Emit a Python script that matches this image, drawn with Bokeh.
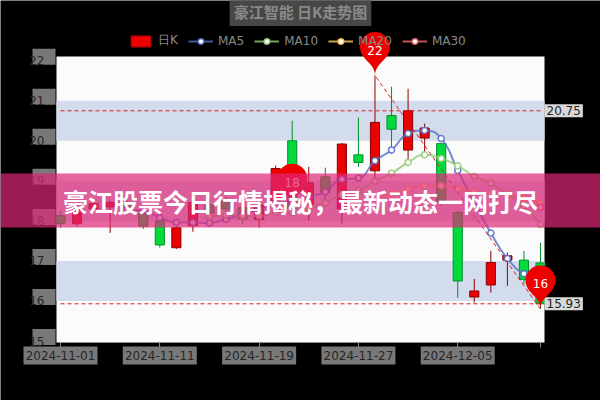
import math
import re
from bokeh.plotting import figure
from bokeh.models import (ColumnDataSource, FixedTicker, BoxAnnotation, Label,
                          PolyAnnotation, Legend, LegendItem, Range1d)
from bokeh.embed import file_html
from bokeh.resources import INLINE

NaN = float("nan")

# ---------------- data ----------------
dates = ["2024-11-01", "2024-11-04", "2024-11-05", "2024-11-06", "2024-11-07",
         "2024-11-08", "2024-11-11", "2024-11-12", "2024-11-13", "2024-11-14",
         "2024-11-15", "2024-11-18", "2024-11-19", "2024-11-20", "2024-11-21",
         "2024-11-22", "2024-11-25", "2024-11-26", "2024-11-27", "2024-11-28",
         "2024-11-29", "2024-12-02", "2024-12-03", "2024-12-04", "2024-12-05",
         "2024-12-06", "2024-12-09", "2024-12-10", "2024-12-11", "2024-12-12"]
opens = [18.13, 17.93, 18.30, 18.35, 18.46, 18.20, 18.00, 17.33, 17.88, 18.40,
         18.50, 18.33, 18.04, 18.50, 20.00, 18.40, 19.10, 18.30, 19.65, 19.25,
         20.63, 19.77, 20.07, 19.93, 18.21, 16.10, 16.40, 17.02, 17.02, 16.95]
highs = [18.25, 18.40, 18.55, 18.50, 18.55, 18.30, 18.05, 17.90, 18.50, 18.55,
         18.60, 18.40, 18.45, 19.38, 20.50, 19.35, 19.33, 19.95, 20.58, 21.63,
         21.35, 21.30, 20.43, 19.95, 18.25, 16.55, 17.25, 17.21, 17.25, 17.45]
lows = [17.83, 17.85, 18.20, 17.70, 18.15, 17.80, 17.33, 17.30, 17.73, 18.10,
        18.25, 17.92, 17.83, 18.40, 18.20, 18.00, 18.50, 17.92, 19.35, 19.00,
        19.68, 19.43, 19.71, 18.38, 16.08, 15.96, 16.21, 16.38, 16.43, 15.80]
closes = [17.93, 18.30, 18.43, 18.46, 18.24, 17.87, 17.40, 17.83, 18.46, 18.20,
          18.30, 18.05, 18.39, 19.31, 18.31, 18.95, 18.71, 19.92, 19.46, 20.46,
          20.29, 20.75, 20.32, 18.46, 16.50, 16.25, 16.96, 17.13, 16.54, 15.93]

ma5 = [NaN] * 4 + [18.27, 18.26, 18.08, 17.96, 17.96, 17.95, 18.04, 18.17, 18.28,
                   18.45, 18.47, 18.60, 18.73, 19.04, 19.07, 19.50, 19.77, 20.18,
                   20.26, 20.06, 19.26, 18.46, 17.70, 17.06, 16.68, 16.56]
ma10 = [NaN] * 9 + [18.11, 18.15, 18.12, 18.12, 18.21, 18.21, 18.32, 18.45, 18.66,
                    18.76, 18.99, 19.19, 19.46, 19.65, 19.56, 19.38, 19.11, 18.94,
                    18.66, 18.37, 17.91]
ma20 = [NaN] * 19 + [18.55, 18.67, 18.79, 18.88, 18.88, 18.80, 18.72, 18.69, 18.66,
                     18.56, 18.45]
ma30 = [NaN] * 29 + [18.34]

ma_names = ["MA5", "MA10", "MA20", "MA30"]
y_ticks = [15, 16, 17, 18, 19, 20, 21, 22]
x_tick_idx = [0, 6, 12, 18, 24, 29]
band_ranges = [(16, 17), (18, 19), (20, 21)]

close_max = 20.75
close_min = 15.93
high_max_idx, high_max = 19, 21.63
low_min_idx, low_min = 29, 15.80
avg_idx, avg_close = 14, 18.34

title_text = "豪江智能 日K走势图"
banner_text = "豪江股票今日行情揭秘，最新动态一网打尽"

# ---------------- styles / geometry ----------------
UP, UP_BORDER = "#ec0000", "#8a0000"
DOWN, DOWN_BORDER = "#00da3c", "#008f28"
MA_COLORS = ["#5470c6", "#91cc75", "#fac858", "#ee6666"]
MARK = "#d81e1e"
PIN = "#ee0000"
BAND = "#d3dcec"
LABEL_BOX = "#787878"

W, H = 600, 400
n = len(dates)
X0_PX = 60.0                         # page x of the first category
PXX = 480.0 / (n - 1)                # px per category
PXY = 40.04                          # px per price unit
Y22_PX = 60.25                       # page y of the top tick
x_start, x_end = -X0_PX / PXX, (W - X0_PX) / PXX
y_end = max(y_ticks) + Y22_PX / PXY
y_start = y_end - H / PXY


def x_of(sx):
    return x_start + sx / PXX


def y_of(sy):
    return y_end - sy / PXY


GRID_L, GRID_R, GRID_T, GRID_B = 56, 544, 56, 341.5

p = figure(width=W, height=H, x_range=Range1d(x_start, x_end),
           y_range=Range1d(y_start, y_end), output_backend="svg",
           toolbar_location=None, min_border=0, min_border_left=0,
           min_border_right=0, min_border_top=0, min_border_bottom=0,
           background_fill_color="#000000", border_fill_color="#000000",
           outline_line_color=None)
p.grid.visible = False

# plot area and split-area bands
p.add_layout(BoxAnnotation(left=x_of(GRID_L), right=x_of(GRID_R), top=y_of(GRID_T),
                           bottom=y_of(GRID_B), fill_color="#fbfbfb", fill_alpha=1.0,
                           line_alpha=0, level="underlay"))
for lo, hi in band_ranges:
    p.add_layout(BoxAnnotation(left=x_of(GRID_L), right=x_of(GRID_R), bottom=lo, top=hi,
                               fill_color=BAND, fill_alpha=1.0, line_alpha=0,
                               level="underlay"))

# grey blocks behind the tick labels (as in the reference)
for t in y_ticks:
    p.add_layout(BoxAnnotation(left=x_of(32), right=x_of(55),
                               bottom=t + (4 - 8) / PXY, top=t + (4 + 8) / PXY,
                               fill_color=LABEL_BOX, fill_alpha=1.0, line_alpha=0,
                               level="underlay"))
for i in x_tick_idx[:-1]:
    p.add_layout(BoxAnnotation(left=i - 37 / PXX, right=i + 37 / PXX,
                               top=y_of(346), bottom=y_of(364),
                               fill_color=LABEL_BOX, fill_alpha=1.0, line_alpha=0,
                               level="underlay"))


# candles
def cdata(sel):
    idx = [i for i in range(n) if sel(i)]
    return ColumnDataSource(dict(
        x=idx,
        top=[max(opens[i], closes[i]) for i in idx],
        bottom=[min(opens[i], closes[i]) for i in idx],
        high=[highs[i] for i in idx],
        low=[lows[i] for i in idx]))


src_up = cdata(lambda i: closes[i] >= opens[i])
src_dn = cdata(lambda i: closes[i] < opens[i])
p.segment(x0="x", y0="high", x1="x", y1="low", source=src_up, line_color=UP_BORDER, line_width=1)
p.segment(x0="x", y0="high", x1="x", y1="low", source=src_dn, line_color=DOWN_BORDER, line_width=1)
r_up = p.vbar(x="x", width=0.55, top="top", bottom="bottom", source=src_up,
              fill_color=UP, line_color=UP_BORDER, line_width=1)
p.vbar(x="x", width=0.55, top="top", bottom="bottom", source=src_dn,
       fill_color=DOWN, line_color=DOWN_BORDER, line_width=1)


def clamp(v, a, b):
    return min(max(v, min(a, b)), max(a, b))


def smooth_curve(xs, ys, smooth=0.5):
    pts = [(x * PXX, y * PXY) for x, y in zip(xs, ys)]
    m = len(pts)
    out_h, in_h = list(pts), list(pts)
    for k in range(1, m - 1):
        x, y = pts[k]
        px_, py_ = pts[k - 1]
        nx, ny = pts[k + 1]
        vx, vy = nx - px_, ny - py_
        lp = math.hypot(x - px_, y - py_)
        ln = math.hypot(nx - x, ny - y)
        r = ln / (lp + ln)
        ocx = clamp(x + vx * smooth * r, x, nx)
        ocy = clamp(y + vy * smooth * r, y, ny)
        icx = clamp(x - (ocx - x) * lp / ln, px_, x)
        icy = clamp(y - (ocy - y) * lp / ln, py_, y)
        ocx = x + (x - icx) * ln / lp
        ocy = y + (y - icy) * ln / lp
        out_h[k], in_h[k] = (ocx, ocy), (icx, icy)
    seg = dict(x0=[], y0=[], x1=[], y1=[], cx0=[], cy0=[], cx1=[], cy1=[])
    for k in range(m - 1):
        seg["x0"].append(pts[k][0] / PXX); seg["y0"].append(pts[k][1] / PXY)
        seg["x1"].append(pts[k + 1][0] / PXX); seg["y1"].append(pts[k + 1][1] / PXY)
        seg["cx0"].append(out_h[k][0] / PXX); seg["cy0"].append(out_h[k][1] / PXY)
        seg["cx1"].append(in_h[k + 1][0] / PXX); seg["cy1"].append(in_h[k + 1][1] / PXY)
    return seg


legend_items = [LegendItem(label="日K", renderers=[r_up])]
for name, vals, col in zip(ma_names, [ma5, ma10, ma20, ma30], MA_COLORS):
    idx = [i for i in range(n) if not math.isnan(vals[i])]
    v = [vals[i] for i in idx]
    if len(idx) > 1:
        seg = smooth_curve(idx, v)
        p.bezier(source=ColumnDataSource(seg), x0="x0", y0="y0", x1="x1", y1="y1",
                 cx0="cx0", cy0="cy0", cx1="cx1", cy1="cy1",
                 line_color=col, line_width=2, line_alpha=0.8)
    key = p.line(x=[NaN], y=[NaN], line_color=col, line_width=2, line_alpha=0.8)
    sc = p.scatter(x=idx, y=v, size=6, marker="circle", fill_color="#ffffff",
                   line_color=col, line_width=1.5, line_alpha=0.9)
    legend_items.append(LegendItem(label=name, renderers=[key, sc]))

# mark lines
p.segment(x0=[0, 0], y0=[close_max, close_min], x1=[n - 1, n - 1], y1=[close_max, close_min],
          line_color=MARK, line_dash="4 3", line_width=1)
p.segment(x0=[low_min_idx], y0=[low_min], x1=[high_max_idx], y1=[high_max],
          line_color=MARK, line_dash="4 3", line_width=1)

has_pad = "padding" in Label.properties()
for val in [close_max, close_min]:
    kw = dict(padding=2) if has_pad else {}
    p.add_layout(Label(x=x_of(544), y=val, text=f"{val:.2f}", text_align="left",
                       text_baseline="middle", text_font_size="12px", text_color="#222222",
                       text_font="DejaVu Sans", background_fill_color="#d9d9d9",
                       background_fill_alpha=1.0, **kw))


# mark points (pins)
def pin_outline(r=15.0, h=50.0, n_arc=28, steps=10):
    dy = r * r / (h - r)
    cy = -h + r + dy
    ang = math.asin(dy / r)
    dx = math.cos(ang) * r
    tx, ty = math.sin(ang), math.cos(ang)
    c1, c2 = r * 0.6, r * 0.7
    pts = []
    a0, a1 = math.pi - ang, 2 * math.pi + ang
    for k in range(n_arc + 1):
        a = a0 + (a1 - a0) * k / n_arc
        pts.append((r * math.cos(a), cy + r * math.sin(a)))

    def bez(p0, q0, q1, p1):
        res = []
        for s in range(1, steps + 1):
            t = s / steps
            u = 1 - t
            res.append((u ** 3 * p0[0] + 3 * u * u * t * q0[0] + 3 * u * t * t * q1[0] + t ** 3 * p1[0],
                        u ** 3 * p0[1] + 3 * u * u * t * q0[1] + 3 * u * t * t * q1[1] + t ** 3 * p1[1]))
        return res
    pts += bez((dx, cy + dy), (dx - tx * c1, cy + dy + ty * c1), (0, -c2), (0, 0))
    pts += bez((0, 0), (0, -c2), (-dx + tx * c1, cy + dy + ty * c1), (-dx, cy + dy))
    return pts


PIN_PTS = pin_outline()
for pi, pv in [(high_max_idx, high_max), (low_min_idx, low_min), (avg_idx, avg_close)]:
    p.add_layout(PolyAnnotation(xs=[pi + a / PXX for a, _ in PIN_PTS],
                                ys=[pv - b / PXY for _, b in PIN_PTS],
                                xs_units="data", ys_units="data",
                                fill_color=PIN, fill_alpha=1.0, line_alpha=0))
    p.add_layout(Label(x=pi, y=pv + 25 / PXY, text=str(round(pv)), text_align="center",
                       text_baseline="middle", text_font_size="12px", text_color="#ffffff",
                       text_font="DejaVu Sans"))

# axes, drawn at fixed spots inside the frame
p.xaxis.fixed_location = y_of(GRID_B)
p.xaxis.bounds = (x_of(GRID_L), x_of(GRID_R))
p.xaxis.ticker = FixedTicker(ticks=x_tick_idx)
p.xaxis.major_label_overrides = {i: (dates[i] if i < n - 1 else "") for i in x_tick_idx}
p.xaxis.axis_line_color = "#8c8c8c"
p.xaxis.major_tick_line_color = "#8c8c8c"
p.xaxis.major_tick_out = 5
p.xaxis.major_tick_in = 0
p.xaxis.minor_tick_line_color = None
p.xaxis.major_label_standoff = 4
p.yaxis.fixed_location = x_of(GRID_L)
p.yaxis.bounds = (min(y_ticks), max(y_ticks))
p.yaxis.ticker = FixedTicker(ticks=y_ticks)
p.yaxis.axis_line_color = None
p.yaxis.major_tick_line_color = None
p.yaxis.minor_tick_line_color = None
p.yaxis.major_label_standoff = 6
for ax in [p.xaxis[0], p.yaxis[0]]:
    ax.major_label_text_font_size = "12px"
    ax.major_label_text_font = "DejaVu Sans"
    ax.major_label_text_color = "#262626"

# legend (inside the black frame, above the plot area)
legend = Legend(items=legend_items, orientation="horizontal",
                location=(128, H - 49),
                background_fill_alpha=0, border_line_alpha=0,
                label_text_color="#8a8a8a", label_text_font_size="12px",
                label_text_font="DejaVu Sans", label_height=14,
                glyph_width=25, glyph_height=14, spacing=10, label_standoff=5,
                padding=0, margin=0)
p.add_layout(legend)

# title
tkw = dict(padding=4) if has_pad else {}
p.add_layout(Label(x=x_of(300), y=y_of(11), text=title_text, text_align="center",
                   text_baseline="middle", text_font="Noto Sans CJK SC",
                   text_font_size="15px", text_font_style="bold", text_color="#8a8a8a",
                   background_fill_color="#474747", background_fill_alpha=1.0, **tkw))

# banner overlay
p.add_layout(BoxAnnotation(top=y_of(173), bottom=y_of(227),
                           fill_color="#df2778", fill_alpha=0.7, line_alpha=0,
                           level="overlay"))
p.add_layout(Label(x=x_of(300), y=y_of(200), text=banner_text,
                   text_align="center", text_baseline="middle", text_font_size="25px",
                   text_font="Noto Sans CJK SC", text_font_style="bold",
                   text_color="#ffffff", level="overlay"))

html = file_html(p, INLINE, title="豪江股票")
html = re.sub(r"<body([^>]*)>", r'<body\1 style="background-color:#000000;">', html, count=1)
open("out.html", "w").write(html)
